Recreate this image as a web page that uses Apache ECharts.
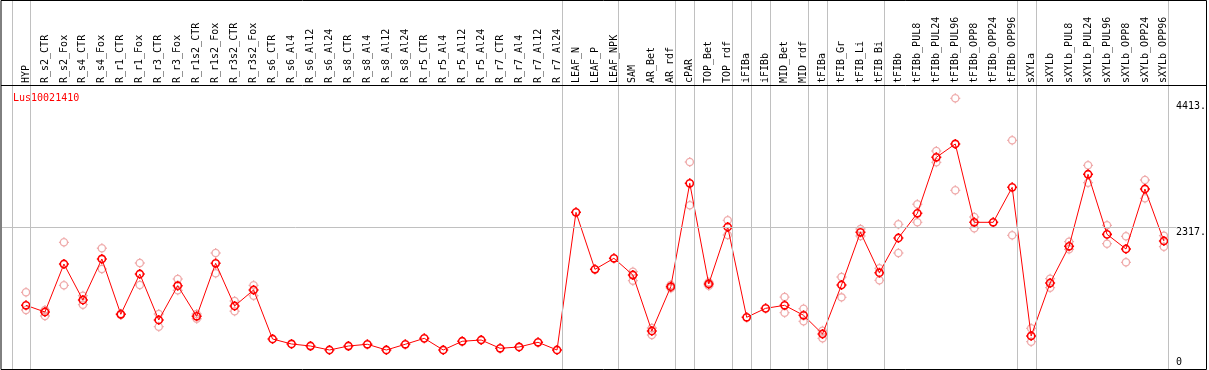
<!DOCTYPE html>
<html><head><meta charset="utf-8">
<script src="https://cdn.jsdelivr.net/npm/echarts@6/dist/echarts.min.js"></script>
<style>html,body{margin:0;padding:0;background:#fff}#c{width:1209px;height:370px}</style>
</head><body><div id="c"></div>
<script>
const geneName = 'Lus10021410';
const categories = ['HYP','R_s2_CTR','R_s2_Fox','R_s4_CTR','R_s4_Fox','R_r1_CTR','R_r1_Fox','R_r3_CTR','R_r3_Fox','R_r1s2_CTR','R_r1s2_Fox','R_r3s2_CTR','R_r3s2_Fox','R_s6_CTR','R_s6_Al4','R_s6_Al12','R_s6_Al24','R_s8_CTR','R_s8_Al4','R_s8_Al12','R_s8_Al24','R_r5_CTR','R_r5_Al4','R_r5_Al12','R_r5_Al24','R_r7_CTR','R_r7_Al4','R_r7_Al12','R_r7_Al24','LEAF_N','LEAF_P','LEAF_NPK','SAM','AR_Bet','AR_rdf','cPAR','TOP_Bet','TOP_rdf','iFIBa','iFIBb','MID_Bet','MID_rdf','tFIBa','tFIB_Gr','tFIB_Li','tFIB_Bi','tFIBb','tFIBb_PUL8','tFIBb_PUL24','tFIBb_PUL96','tFIBb_OPP8','tFIBb_OPP24','tFIBb_OPP96','sXYLa','sXYLb','sXYLb_PUL8','sXYLb_PUL24','sXYLb_PUL96','sXYLb_OPP8','sXYLb_OPP24','sXYLb_OPP96'];
const meanValues = [1026,915,1713,1115,1797,877,1547,782,1352,843,1725,1015,1281,466,383,349,283,349,378,283,378,477,283,428,449,311,333,411,283,2573,1625,1808,1530,599,1336,3056,1381,2329,827,976,1026,860,549,1364,2241,1569,2146,2557,3488,3710,2407,2407,2989,516,1397,2008,3206,2207,1963,2961,2096];
const repA = [1243,948,2074,1186,1975,885,1730,882,1464,883,1896,1098,1359,null,null,null,null,null,null,null,null,null,null,null,null,null,null,null,null,null,null,null,1585,649,1364,3410,1410,2440,null,null,1164,970,604,1497,2296,1642,2374,2707,3593,4470,2495,null,3771,644,1469,2084,3355,2357,2174,3111,2184];
const repB = [948,848,1359,1036,1630,870,1364,670,1276,803,1559,927,1186,null,null,null,null,null,null,null,null,null,null,null,null,null,null,null,null,null,null,null,1436,532,1309,2690,1350,2196,null,null,903,760,477,1159,2179,1442,1896,2407,3405,2939,2307,null,2191,421,1319,1958,3066,2051,1742,2806,2001];
const yTickValues = [0, 2317, 4413];
const yTickLabels = ['0', '2317.', '4413.'];
const gridValue = 2317;
const yMax = 4691;
// group separators are drawn just after these category indices
const separatorAfter = [-1,0,28,31,34,35,37,38,39,41,42,45,52,53,60];

const FONT = 'DejaVu Sans Mono';
const MARK = 'path://M5,0L5,1.4M5,8.6L5,10M0,5L1.4,5M8.6,5L10,5M8.6,5A3.6,3.6,0,1,1,1.4,5A3.6,3.6,0,1,1,8.6,5Z';
const chart = echarts.init(document.getElementById('c'), null, {renderer:'canvas'});

const repData = [];
repA.forEach((v,i)=>{ if (v!=null) repData.push([i, v]); });
repB.forEach((v,i)=>{ if (v!=null) repData.push([i, v]); });

const sepLines = separatorAfter.map(i => [{xAxis: i + 0.25, y: 0}, {xAxis: i + 0.25, y: 369}]);

chart.setOption({
  animation: false,
  title: {text: geneName, left: 8, top: 88, textStyle: {color:'#ff0000', fontFamily: FONT, fontSize: 10, fontWeight:'normal'}},
  grid: {left: 26, right: 43, top: 85, bottom: 3},
  xAxis: [
    {type:'category', data: categories, position:'top', boundaryGap:false,
     axisLine:{show:false}, axisTick:{show:false}, splitLine:{show:false},
     axisLabel:{interval:0, rotate:90, margin:2, color:'#000', fontFamily:FONT, fontSize:10}},
    {type:'value', min:0, max:categories.length-1, show:false}
  ],
  yAxis: {type:'value', min:0, max:yMax, position:'right',
    axisLine:{show:false}, axisTick:{show:false}, splitLine:{show:false},
    axisLabel:{customValues: yTickValues, margin:12, color:'#000', fontFamily:FONT, fontSize:10,
      verticalAlign:'top', verticalAlignMinLabel:'bottom',
      formatter: v => yTickLabels[yTickValues.indexOf(v)]}},
  graphic: [
    {type:'rect', shape:{x:1, y:0.5, width:1205.5, height:369}, style:{fill:null, stroke:'#000', lineWidth:1}, z:100},
    {type:'line', shape:{x1:1, y1:85.5, x2:1207, y2:85.5}, style:{stroke:'#000', lineWidth:1}, z:100}
  ],
  series: [
    {type:'line', xAxisIndex:1, data:[], clip:false, silent:true,
     markLine:{silent:true, symbol:'none', label:{show:false}, animation:false,
       lineStyle:{color:'#c0c0c0', width:1, type:'solid'},
       data: sepLines.concat([[{x:2, yAxis:gridValue},{x:1176, yAxis:gridValue}]])}},
    {type:'scatter', xAxisIndex:1, data: repData, symbol:MARK, symbolSize:10, silent:true,
     itemStyle:{color:'rgba(0,0,0,0)', borderColor:'#eb9696', borderWidth:1.3}, z:3},
    {type:'line', data: meanValues, symbol:MARK, symbolSize:10, silent:true,
     lineStyle:{color:'#ff0000', width:1},
     itemStyle:{color:'rgba(0,0,0,0)', borderColor:'#ff0000', borderWidth:1.6}, z:4}
  ]
});
</script></body></html>
